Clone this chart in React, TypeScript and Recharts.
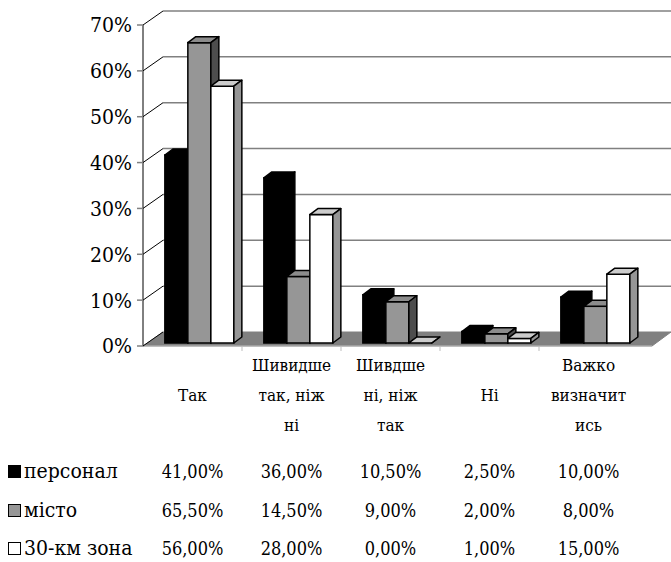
import { BarChart, Bar, XAxis, YAxis, CartesianGrid, Legend } from "recharts"

const categories = ["Так", "Шивидше\nтак, ніж\nні", "Шивдше\nні, ніж\nтак", "Ні", "Важко\nвизначит\nись"]
const personal = [41, 36, 10.5, 2.5, 10]
const city = [65.5, 14.5, 9, 2, 8]
const zone30 = [56, 28, 0, 1, 15]
const seriesNames = ["персонал", "місто", "30-км зона"]
const yTicks = [0, 10, 20, 30, 40, 50, 60, 70]

const FONT = "'DejaVu Serif Condensed', 'DejaVu Serif'"
const PLOT_BOTTOM = 346
const DEPTH_X = 20
const DEPTH_Y = -14

const seriesColors = [
  { front: "#000000", top: "#000000", side: "#000000" },
  { front: "#969696", top: "#8c8c8c", side: "#4d4d4d" },
  { front: "#ffffff", top: "#cccccc", side: "#969696" },
]

const data = categories.map((cat, i) => ({
  cat,
  personal: personal[i],
  city: city[i],
  zone: zone30[i],
}))

const fmt = (v: number) => v.toFixed(2).replace(".", ",") + "%"

// 3D box: front face + top + right side
function Box3D(props: any) {
  const { x, y, width, height, colors } = props
  if (x == null || y == null) return null
  const bx = x + 7
  const by = y - 3
  const h = Math.max(height || 0, 0)
  const w = width
  const dx = 8
  const dy = -6
  const sw = 1.5
  return (
    <g>
      <rect x={bx} y={by} width={w} height={h} fill={colors.front} stroke="#000" strokeWidth={sw} />
      <polygon
        points={`${bx},${by} ${bx + w},${by} ${bx + w + dx},${by + dy} ${bx + dx},${by + dy}`}
        fill={colors.top}
        stroke="#000"
        strokeWidth={sw}
        strokeLinejoin="round"
      />
      <polygon
        points={`${bx + w},${by} ${bx + w + dx},${by + dy} ${bx + w + dx},${by + h + dy} ${bx + w},${by + h}`}
        fill={colors.side}
        stroke="#000"
        strokeWidth={sw}
        strokeLinejoin="round"
      />
    </g>
  )
}

// back wall gridlines, side-wall diagonals and the floor
function GridLine(props: any) {
  const { x1, y1, x2 } = props
  if (Math.abs(y1 - PLOT_BOTTOM) < 1) {
    const band = (x2 - x1) / categories.length
    return (
      <g>
        <polygon
          points={`${x1},${y1} ${x2 + 14},${y1} ${x2 + 33},${y1 + DEPTH_Y} ${x1 + DEPTH_X},${y1 + DEPTH_Y}`}
          fill="#808080"
          stroke="#808080"
          strokeWidth={1}
        />
        <line x1={x1} y1={y1} x2={x2 + 14} y2={y1} stroke="#bdbdbd" strokeWidth={1} />
        {categories.slice(1).map((_, k) => (
          <line
            key={k}
            x1={x1 + band * (k + 1)}
            y1={y1}
            x2={x1 + band * (k + 1)}
            y2={y1 + 5}
            stroke="#bdbdbd"
            strokeWidth={1}
          />
        ))}
        <line x1={x1} y1={y1} x2={x1 + DEPTH_X} y2={y1 + DEPTH_Y} stroke="#000" strokeWidth={1} />
      </g>
    )
  }
  return (
    <g>
      <line x1={x1 + DEPTH_X} y1={y1 + DEPTH_Y} x2={x2 + 33} y2={y1 + DEPTH_Y} stroke="#808080" strokeWidth={1.5} />
      <line x1={x1} y1={y1} x2={x1 + DEPTH_X} y2={y1 + DEPTH_Y} stroke="#000" strokeWidth={1} />
    </g>
  )
}

const labelRows = [365, 395, 425]
const valueRows = [471, 510, 548]

function CategoryTick(props: any) {
  const { x, payload, index } = props
  const lines: string[] = String(payload.value).split("\n")
  const start = lines.length === 1 ? 1 : 0
  const values = [personal[index], city[index], zone30[index]]
  return (
    <g fontFamily={FONT} fill="#000">
      {lines.map((ln, i) => (
        <text key={i} x={x} y={labelRows[start + i]} textAnchor="middle" dominantBaseline="central" fontSize={17} fontFamily={FONT}>
          {ln}
        </text>
      ))}
      {values.map((v, r) => (
        <text key={"v" + r} x={x} y={valueRows[r]} textAnchor="middle" dominantBaseline="central" fontSize={18} fontFamily={FONT}>
          {fmt(v)}
        </text>
      ))}
    </g>
  )
}

function TableLegend() {
  return (
    <div style={{ position: "relative", width: 0, height: 0 }}>
      {seriesNames.map((name, i) => (
        <div
          key={name}
          style={{
            position: "absolute",
            left: 8,
            top: valueRows[i] - 455 - 12,
            height: 24,
            display: "flex",
            alignItems: "center",
            whiteSpace: "nowrap",
            fontFamily: FONT,
            fontSize: 21,
            color: "#000",
          }}
        >
          <span
            style={{
              display: "inline-block",
              width: 11,
              height: 11,
              background: seriesColors[i].front,
              border: "1.5px solid #000",
              marginRight: 3,
            }}
          />
          {name}
        </div>
      ))}
    </div>
  )
}

export default function App() {
  return (
    <div style={{ position: "absolute", left: 0, top: 0, width: 671, height: 562, background: "#fff" }}>
      <BarChart
        width={671}
        height={562}
        data={data}
        margin={{ top: 25, right: 33, bottom: 0, left: 83 }}
        barCategoryGap="15%"
        barGap={0}
        style={{ fontFamily: FONT }}
      >
        <CartesianGrid horizontal={GridLine} vertical={false} />
        <YAxis
          width={60}
          domain={[0, 70]}
          ticks={yTicks}
          interval={0}
          tickFormatter={(v: number) => `${v}%`}
          axisLine={{ stroke: "#000", strokeWidth: 1 }}
          tickLine={{ stroke: "#808080", strokeWidth: 1.5 }}
          tickSize={6}
          tickMargin={5}
          tick={{ fontFamily: FONT, fontSize: 21, fill: "#000" }}
        />
        <XAxis
          dataKey="cat"
          height={216}
          interval={0}
          axisLine={false}
          tickLine={false}
          tick={<CategoryTick />}
        />
        <Legend
          content={<TableLegend />}
          wrapperStyle={{ position: "absolute", left: 0, top: 455, width: 0, height: 0 }}
        />
        <Bar dataKey="personal" name={seriesNames[0]} isAnimationActive={false}
          shape={(p: any) => <Box3D {...p} colors={seriesColors[0]} />} />
        <Bar dataKey="city" name={seriesNames[1]} isAnimationActive={false}
          shape={(p: any) => <Box3D {...p} colors={seriesColors[1]} />} />
        <Bar dataKey="zone" name={seriesNames[2]} isAnimationActive={false}
          shape={(p: any) => <Box3D {...p} colors={seriesColors[2]} />} />
      </BarChart>
    </div>
  )
}
